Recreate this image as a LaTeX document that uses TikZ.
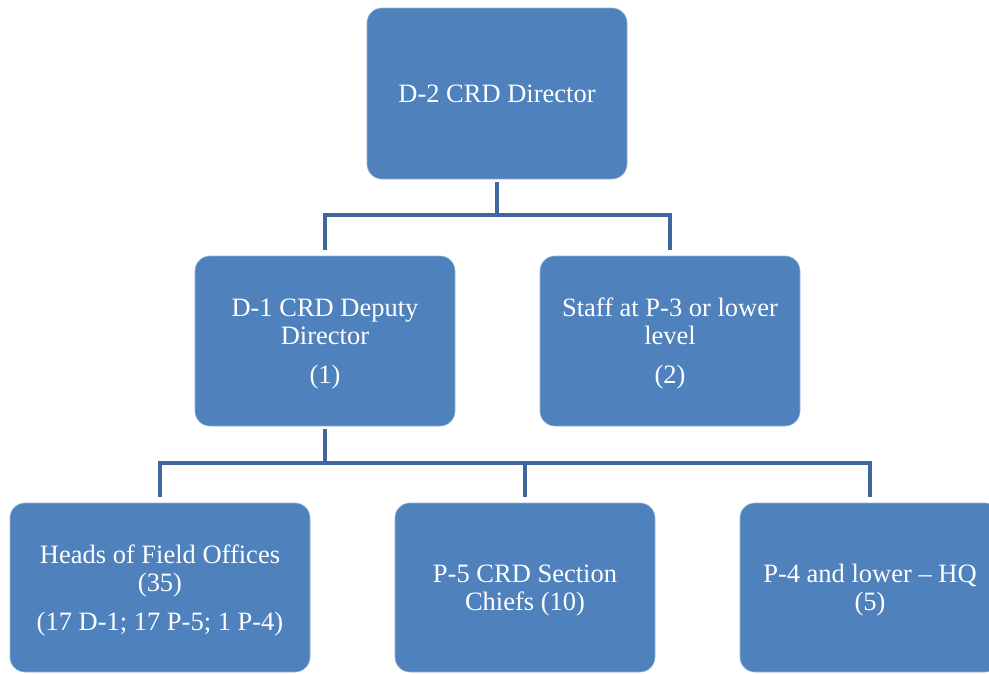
\documentclass[tikz,border=0pt]{standalone}
\usepackage{fontspec}
\setmainfont{Liberation Serif}
\usetikzlibrary{calc}
\definecolor{boxblue}{RGB}{79,129,189}
\definecolor{linkblue}{RGB}{64,104,158}
\newcommand{\boxlines}[1]{\raisebox{-3.5pt}[\height][\depth]{\begin{tabular}{@{}c@{}}#1\end{tabular}}}
\tikzset{
  orgbox/.style={rectangle, rounded corners=15pt, fill=boxblue, draw=boxblue!60!white, line width=0.6pt,
    text=white, inner sep=0pt, outer sep=0pt,
    minimum height=170pt, font=\fontsize{26.5}{28}\selectfont},
  conn/.style={draw=linkblue, line width=4.5pt, line join=miter}
}
\begin{document}
\begin{tikzpicture}[x=1pt,y=-1pt]
\useasboundingbox (0,0) rectangle (989,673);
\clip (0,0) rectangle (989,673);
\node[orgbox, minimum width=260pt, minimum height=171pt] (top) at (497,93.5) {D-2 CRD Director};
\node[orgbox, minimum width=260pt] (d1) at (325,341) {\boxlines{D-1 CRD Deputy\\Director\\[11pt](1)}};
\node[orgbox, minimum width=260pt] (staff) at (670,341) {\boxlines{Staff at P-3 or lower\\level\\[11pt](2)}};
\node[orgbox, minimum width=300pt, minimum height=169pt] (heads) at (160,587.5) {\boxlines{Heads of Field Offices\\(35)\\[11pt](17 D-1; 17 P-5; 1 P-4)}};
\node[orgbox, minimum width=260pt, minimum height=169pt] (p5) at (525,587.5) {\boxlines{P-5 CRD Section\\Chiefs (10)}};
\node[orgbox, minimum width=260pt, minimum height=169pt] (p4) at (870,587.5) {\boxlines{P-4 and lower – HQ\\(5)}};
% level 1 connectors
\coordinate (j1) at ($(top.south)+(0,36)$);
\draw[conn] ([yshift=-3pt]top.south) -- (j1);
\draw[conn] ([yshift=6pt]d1.north) |- (j1) -| ([yshift=6pt]staff.north);
% level 2 connectors
\coordinate (j2) at ($(d1.south)+(0,37)$);
\draw[conn] ([yshift=-3pt]d1.south) -- (j2);
\draw[conn] ([yshift=6pt]heads.north) |- (j2) -| ([yshift=6pt]p4.north);
\draw[conn] ([yshift=6pt]p5.north) -- (p5.north |- j2);
\end{tikzpicture}
\end{document}
